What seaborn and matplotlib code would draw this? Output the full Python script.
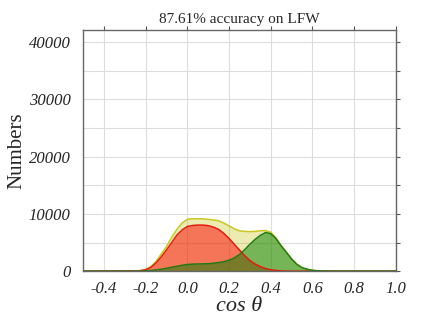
"""Cosine similarity distribution of positive / negative pairs on LFW"""
import matplotlib
matplotlib.use("Agg")
import matplotlib.pyplot as plt
import numpy as np
import pandas as pd
import seaborn as sns

# cos theta bins (flat zero outside the listed range)
cos_theta = [-0.5, -0.25, -0.225, -0.2, -0.175, -0.15, -0.125, -0.1, -0.075, -0.05, -0.025,
             0.0, 0.025, 0.05, 0.075, 0.1, 0.125, 0.15, 0.175, 0.2, 0.225,
             0.25, 0.275, 0.3, 0.325, 0.35, 0.375, 0.4, 0.425, 0.45, 0.475,
             0.5, 0.525, 0.55, 0.575, 0.6, 0.625, 0.65, 0.7, 1.0]
all_pairs = [0, 30, 100, 300, 800, 1700, 3000, 4300, 5900, 7300, 8400,
             9050, 9150, 9150, 9150, 9050, 8950, 8800, 8400, 7900, 7400,
             7050, 6950, 6900, 6950, 7050, 7100, 6800, 5800, 4450, 3300,
             2150, 1200, 600, 320, 150, 60, 20, 0, 0]
neg_pairs = [0, 30, 80, 250, 650, 1450, 2500, 3700, 5000, 6300, 7200,
             7800, 7980, 8050, 8050, 7950, 7700, 7300, 6600, 5700, 4700,
             3700, 2700, 1850, 1250, 800, 450, 250, 120, 50, 10,
             0, 0, 0, 0, 0, 0, 0, 0, 0]
pos_pairs = [0, 0, 15, 50, 110, 200, 330, 500, 680, 850, 1020,
             1170, 1220, 1250, 1270, 1300, 1380, 1500, 1650, 1900, 2300,
             2900, 3750, 4700, 5550, 6250, 6750, 6550, 5700, 4400, 3300,
             2100, 1200, 600, 320, 150, 60, 20, 0, 0]

SERIF = ["Liberation Serif", "DejaVu Serif"]

sns.set_style("white")
plt.rcParams["font.family"] = SERIF

df = pd.DataFrame({"cos": cos_theta, "all": all_pairs,
                   "neg": neg_pairs, "pos": pos_pairs})

fig = plt.figure(figsize=(4.35, 3.19), dpi=100)
ax = fig.add_axes([0.191, 0.150, 0.719, 0.757])

styles = [("all", "#c8c81e", "y", 0.3), ("neg", "#e41a0c", "r", 0.5),
          ("pos", "#1e7a12", "g", 0.5)]
for col, line_c, fill_c, alpha in styles:
    ax.fill_between(df["cos"], df[col], color=fill_c, alpha=alpha, lw=0)
    sns.lineplot(data=df, x="cos", y=col, color=line_c, lw=1.1, ax=ax)

ax.set_xlim(-0.5, 1.0)
ax.set_ylim(0, 42200)
xt = np.arange(-0.4, 1.01, 0.2)
ax.set_xticks(xt)
ax.set_xticklabels([f"{v:.1f}" for v in xt])
ax.set_yticks(np.arange(0, 40001, 5000))
ax.set_yticklabels([str(v) if v % 10000 == 0 else "" for v in range(0, 40001, 5000)])

ax.grid(True, color="#dddddd", lw=0.8)
ax.set_axisbelow(True)
for sp in ax.spines.values():
    sp.set_color("#666666")
    sp.set_linewidth(1.0)
ax.tick_params(axis="both", which="major", direction="out", length=3, width=0.8,
               color="#555555", top=True, right=True, labelsize=12)
ax.tick_params(axis="y", pad=6)
ax.tick_params(axis="x", pad=4)
for lab in ax.get_xticklabels() + ax.get_yticklabels():
    lab.set_fontstyle("italic")

ax.set_title("87.61% accuracy on LFW", fontsize=11, pad=5)
ax.set_xlabel("cos θ", fontsize=16, fontstyle="italic", labelpad=0)
ax.set_ylabel("Numbers", fontsize=15, labelpad=2)

fig.savefig("out.png", dpi=100)
